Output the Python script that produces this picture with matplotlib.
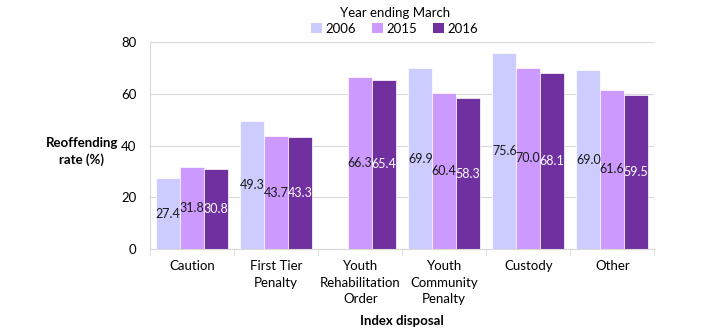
import matplotlib
matplotlib.use("Agg")
import matplotlib.pyplot as plt
import numpy as np
from matplotlib.patches import Patch

categories = ["Caution", "First Tier\nPenalty", "Youth\nRehabilitation\nOrder",
              "Youth\nCommunity\nPenalty", "Custody", "Other"]
series_names = ["2006", "2015", "2016"]
v2006 = [27.4, 49.3, np.nan, 69.9, 75.6, 69.0]
v2015 = [31.8, 43.7, 66.3, 60.4, 70.0, 61.6]
v2016 = [30.8, 43.3, 65.4, 58.3, 68.1, 59.5]
yticks = [0, 20, 40, 60, 80]

colors = ["#CCCCFF", "#CC99FF", "#7030A0"]
label_colors = ["#1a1a1a", "#1a1a1a", "white"]

plt.rcParams['font.family'] = ['Lato', 'DejaVu Sans']

fig = plt.figure(figsize=(7.05, 3.3), dpi=100)
ax = fig.add_axes([0.213, 0.245, 0.715, 0.628])

x = np.arange(len(categories))
w = 0.285
for i, (vals, c, lc) in enumerate(zip([v2006, v2015, v2016], colors, label_colors)):
    pos = x + (i - 1) * w
    ax.bar(pos, vals, width=w, color=c, edgecolor="white", linewidth=0.5, zorder=2)
    for p, v in zip(pos, vals):
        if np.isnan(v):
            continue
        ax.text(p, v / 2, f"{v:.1f}", ha="center", va="center", color=lc,
                fontsize=9.0, zorder=3)

ax.set_xlim(-0.5, len(categories) - 0.5)
ax.set_ylim(0, 80)
ax.set_yticks(yticks)
ax.set_yticklabels([str(t) for t in yticks], fontsize=9.5)
ax.yaxis.grid(True, color="#d9d9d9", linewidth=0.8, zorder=0)
ax.set_axisbelow(True)

ax.set_xticks(x)
ax.set_xticklabels(categories, fontsize=9.5, linespacing=1.45)
ax.tick_params(axis="x", length=0, pad=8)
ax.tick_params(axis="y", length=0, pad=10)
ax.set_xticks(np.arange(-0.5, len(categories), 1), minor=True)
ax.tick_params(axis="x", which="minor", length=5, color="#d9d9d9")

for s in ["top", "right"]:
    ax.spines[s].set_visible(False)
ax.spines["left"].set_color("#d9d9d9")
ax.spines["bottom"].set_color("#d9d9d9")

ax.set_xlabel("Index disposal", fontsize=9.5, fontweight="bold", labelpad=7)
fig.text(0.116, 0.54, "Reoffending\nrate (%)", ha="center", va="center",
         fontsize=9.5, fontweight="bold", linespacing=1.4)

handles = [Patch(facecolor=c, edgecolor="none") for c in colors]
leg = fig.legend(handles, series_names, loc="upper center", bbox_to_anchor=(0.56, 1.0),
                 ncol=3, frameon=False, title="Year ending March", fontsize=9.5,
                 title_fontsize=9.5, handlelength=0.8, handleheight=0.8,
                 handletextpad=0.3, columnspacing=1.2, borderaxespad=0.1)
leg._legend_box.sep = 3

fig.savefig("out.png", dpi=100)
